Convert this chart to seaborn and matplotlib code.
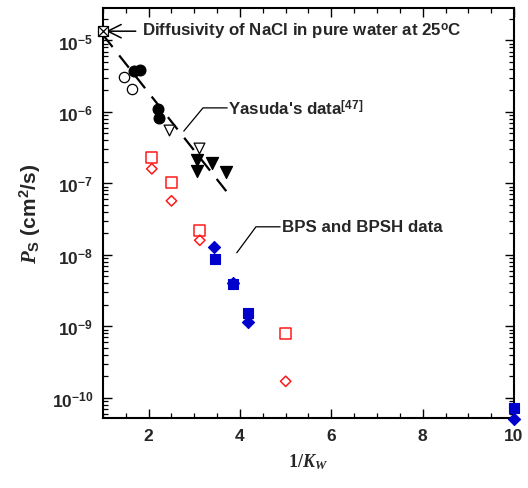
import matplotlib
matplotlib.use("Agg")
import matplotlib.pyplot as plt
import matplotlib.ticker as mticker
import seaborn as sns
import pandas as pd

# ---- data ----
nacl_x = [1.0]
nacl_y = [1.35e-5]

fit_x = [1.0, 3.75]
fit_y = [1.2e-5, 7.1e-8]

open_circ_x = [1.47, 1.63]
open_circ_y = [3.1e-6, 2.1e-6]

fill_circ_x = [1.68, 1.82, 2.20, 2.22]
fill_circ_y = [3.7e-6, 3.9e-6, 1.1e-6, 8.3e-7]

open_tri_x = [2.44, 3.10]
open_tri_y = [5.6e-7, 3.1e-7]

fill_tri_x = [3.05, 3.05, 3.38, 3.69]
fill_tri_y = [2.1e-7, 1.5e-7, 1.9e-7, 1.45e-7]

red_sq_x = [2.07, 2.50, 3.12, 5.00]
red_sq_y = [2.3e-7, 1.04e-7, 2.2e-8, 7.9e-10]

red_dia_x = [2.07, 2.50, 3.12, 5.00]
red_dia_y = [1.6e-7, 5.7e-8, 1.6e-8, 1.7e-10]

blue_sq_x = [3.45, 3.85, 4.18, 10.0]
blue_sq_y = [8.7e-9, 3.9e-9, 1.55e-9, 7.2e-11]

blue_dia_x = [3.43, 3.85, 4.18, 10.0]
blue_dia_y = [1.3e-8, 4.1e-9, 1.15e-9, 5.1e-11]

x_ticks = [2, 4, 6, 8, 10]
y_ticks = [1e-10, 1e-9, 1e-8, 1e-7, 1e-6, 1e-5]
y_tick_labels = ["-10", "-9", "-8", "-7", "-6", "-5"]

# ---- style ----
sns.set_style("ticks")
plt.rcParams["font.family"] = ["Liberation Sans", "DejaVu Sans"]
plt.rcParams["mathtext.fontset"] = "custom"
plt.rcParams["mathtext.sf"] = "Liberation Sans:bold"
plt.rcParams["mathtext.bf"] = "Liberation Sans:bold"
plt.rcParams["mathtext.rm"] = "Liberation Serif:bold"
plt.rcParams["mathtext.it"] = "Liberation Serif:bold:italic"

fig = plt.figure(figsize=(5.28, 4.89), dpi=100)
ax = fig.add_axes([0.195, 0.143, 0.7785, 0.8386])

RED = "#ff1a1a"
BLUE = "#0000cc"

def scat(xs, ys, marker, size, face, edge, lw=1.0, z=3):
    df = pd.DataFrame({"x": xs, "y": ys})
    sns.scatterplot(data=df, x="x", y="y", ax=ax, marker=marker, s=size,
                    facecolor=face, edgecolor=edge, linewidth=lw,
                    zorder=z, clip_on=False, legend=False)

# dashed fit line
sns.lineplot(x=fit_x, y=fit_y, ax=ax, color="black", lw=1.6,
             dashes=False, zorder=2)
ax.lines[-1].set_dashes((7, 4.8))

scat(open_circ_x, open_circ_y, "o", 55, "white", "black", 0.9)
scat(fill_circ_x, fill_circ_y, "o", 60, "black", "black", 0.9)
scat(open_tri_x, open_tri_y, "v", 60, "white", "black", 0.9)
scat(fill_tri_x, fill_tri_y, "v", 75, "black", "black", 0.9)
scat(red_sq_x, red_sq_y, "s", 65, "none", RED, 1.1)
scat(red_dia_x, red_dia_y, "D", 28, "none", RED, 1.1)
scat(blue_dia_x, blue_dia_y, "D", 38, BLUE, BLUE, 0.8)
scat(blue_sq_x, blue_sq_y, "s", 62, BLUE, BLUE, 0.8)
scat(nacl_x, nacl_y, "s", 50, "white", "black", 0.9, z=5)
scat(nacl_x, nacl_y, "x", 50, "black", "black", 0.9, z=6)

# ---- axes ----
ax.set_yscale("log")
ax.set_xlim(1, 10)
ax.set_ylim(5.2e-11, 2.85e-5)
ax.xaxis.set_major_locator(mticker.FixedLocator(x_ticks))
ax.xaxis.set_minor_locator(mticker.MultipleLocator(0.5))
ax.set_xticklabels([str(t) for t in x_ticks], fontsize=12.5, fontweight="bold")
ax.yaxis.set_major_locator(mticker.FixedLocator(y_ticks))
ax.yaxis.set_minor_locator(mticker.LogLocator(base=10, subs=range(2, 10), numticks=30))
ax.yaxis.set_minor_formatter(mticker.NullFormatter())
ax.set_yticklabels([r"$\mathsf{10^{%s}}$" % s for s in y_tick_labels], fontsize=12.5)

for sp in ax.spines.values():
    sp.set_linewidth(1.5)
    sp.set_color("black")
ax.tick_params(which="both", direction="in", top=True, right=True, color="black")
ax.tick_params(which="major", length=6.5, width=1.0, pad=7)
ax.tick_params(which="minor", length=3.5, width=0.9)

ax.set_xlabel(r"$\mathrm{1/}\mathit{K}_{\mathit{W}}$", fontsize=13, labelpad=6)
ax.set_ylabel(r"$\mathit{P}_{\mathsf{S}}$ (cm$^{\mathsf{2}}$/s)", fontsize=15,
              fontweight="bold", labelpad=6)

# ---- annotations ----
ax.annotate(r"Diffusivity of NaCl in pure water at 25$^{\mathsf{o}}$C",
            xy=(1.07, 1.35e-5), xytext=(1.85, 1.35e-5),
            ha="left", va="center", fontsize=12.2, fontweight="bold",
            arrowprops=dict(arrowstyle="->", lw=1.1, color="black",
                            shrinkA=2, shrinkB=0, mutation_scale=24))

ax.plot([2.77, 3.19, 3.72], [5.4e-7, 1.14e-6, 1.14e-6], color="black", lw=0.9)
ax.text(3.74, 1.14e-6, r"Yasuda's data$^{\mathsf{[47]}}$", ha="left", va="center",
        fontsize=12.2, fontweight="bold")

ax.plot([3.93, 4.35, 4.88], [1.07e-8, 2.47e-8, 2.47e-8], color="black", lw=0.9)
ax.text(4.92, 2.47e-8, "BPS and BPSH data", ha="left", va="center",
        fontsize=12.2, fontweight="bold")

fig.savefig("out.png", dpi=100)
